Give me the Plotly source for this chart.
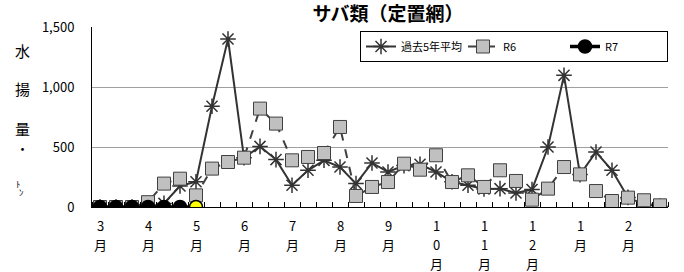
import plotly.graph_objects as go

months = [["3", "月"], ["4", "月"], ["5", "月"], ["6", "月"], ["7", "月"], ["8", "月"], ["9", "月"],
          ["1", "0", "月"], ["1", "1", "月"], ["1", "2", "月"], ["1", "月"], ["2", "月"]]

avg5 = [0, 0, 0, 0, 30, 175, 210, 840, 1400, 410, 505, 395, 181, 306, 389, 333, 195, 367,
        292, 345, 356, 292, 210, 181, 150, 153, 117, 145, 500, 1097, 270, 458, 306, 80, 22, 5]
r6 = [0, 0, 0, 40, 195, 236, 97, 320, 375, 411, 820, 695, 389, 417, 450, 667, 92, 167,
      208, 361, 311, 431, 208, 264, 167, 306, 217, 61, 153, 333, 272, 133, 50, 78, 56, 14]
r7 = [0, 0, 0, 0, 0, 0, 0]

yticks = [0, 500, 1000, 1500]
ytext = ["0", "500", "1,000", "1,500"]

FONT = "Noto Sans CJK JP"
x_all = list(range(len(avg5)))
x_r7 = list(range(len(r7)))

fig = go.Figure()
fig.add_trace(go.Scatter(
    x=x_all, y=avg5, name="過去5年平均", mode="lines+markers",
    line=dict(color="#333333", width=2),
    marker=dict(symbol="asterisk-open", size=13, color="#333333", line=dict(color="#333333", width=1.5)),
))
fig.add_trace(go.Scatter(
    x=x_all, y=r6, name="R6", mode="lines+markers",
    line=dict(color="#404040", width=2, dash="dash"),
    marker=dict(symbol="square", size=13, color="#c0c0c0", line=dict(color="#404040", width=1)),
))
fig.add_trace(go.Scatter(
    x=x_r7, y=r7, name="R7", mode="lines+markers",
    line=dict(color="black", width=3.5),
    marker=dict(symbol="circle", size=13,
                color=["black"] * (len(r7) - 1) + ["#ffff00"],
                line=dict(color="black", width=1.5)),
))

fig.update_layout(
    width=684, height=272,
    margin=dict(l=92, r=16, t=27, b=65),
    paper_bgcolor="white", plot_bgcolor="white",
    font=dict(family=FONT, size=13, color="black"),
    showlegend=True,
    legend=dict(orientation="h", x=1.0, y=(207 - 31) / 180, xanchor="right", yanchor="top",
                bordercolor="black", borderwidth=1, bgcolor="white",
                font=dict(size=11), itemwidth=30, entrywidth=57, tracegroupgap=0),
    title=dict(text="<b>サバ類（定置網）</b>", x=388 / 684, xref="container", xanchor="center",
               y=1 - 14 / 272, yref="container", yanchor="middle",
               font=dict(family=FONT, size=19, color="black")),
)

fig.update_xaxes(
    range=[-0.5, 35.5], showgrid=False, zeroline=False,
    showline=True, linecolor="black", linewidth=1,
    tickvals=[3 * i for i in range(len(months))], ticktext=[""] * len(months),
    ticks="",
    minor=dict(ticks="inside", ticklen=5, tick0=0.5, dtick=1, tickcolor="black", showgrid=False),
)
fig.update_yaxes(
    range=[0, 1500], showgrid=True, gridcolor="#a0a0a0", gridwidth=1, zeroline=False,
    showline=True, linecolor="black", linewidth=1,
    tickvals=yticks, ticktext=ytext, ticks="", ticklabelstandoff=14,
    tickfont=dict(family=FONT, size=13),
)

for i, chars in enumerate(months):
    for k, ch in enumerate(chars):
        fig.add_annotation(text=ch, xref="x", yref="paper", x=3 * i, y=0,
                           yshift=-(18 + 19 * k), showarrow=False,
                           xanchor="center", yanchor="middle", font=dict(size=13))

ylab = [("水", 50, 15), ("揚", 88, 15), ("量", 128, 15), ("・", 148, 13)]
for ch, py, fs in ylab:
    fig.add_annotation(text=ch, xref="paper", yref="paper", x=(22 - 92) / 576, y=(207 - py) / 180,
                       showarrow=False, xanchor="center", yanchor="middle", font=dict(size=fs))
fig.add_annotation(text="ﾄ", xref="paper", yref="paper", x=(18 - 92) / 576, y=(207 - 184) / 180,
                   showarrow=False, xanchor="center", yanchor="middle", font=dict(size=9))
fig.add_annotation(text="ﾝ", xref="paper", yref="paper", x=(21 - 92) / 576, y=(207 - 192) / 180,
                   showarrow=False, xanchor="center", yanchor="middle", font=dict(size=9))

fig.write_html("out.html")
